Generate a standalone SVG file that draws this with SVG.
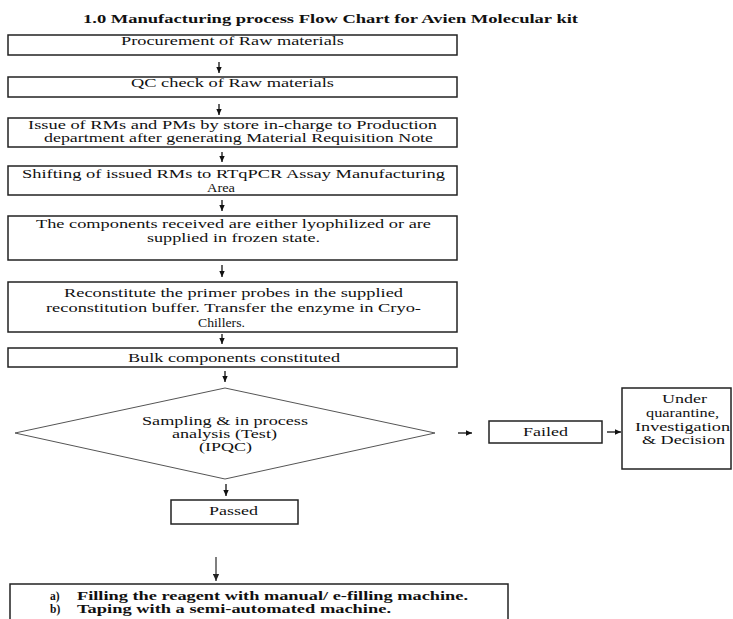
<svg xmlns="http://www.w3.org/2000/svg" width="733" height="619" viewBox="0 0 733 619">
<defs>
<style>
.box{fill:#fff;stroke:#222;stroke-width:1.5}
.dia{fill:#fff;stroke:#555;stroke-width:1}
.t{font-family:"Liberation Serif","Times New Roman",serif;font-size:12.5px;fill:#111}
.s{font-size:11.5px}
.b{font-weight:bold}
.c{stroke:#111;stroke-width:1.3;fill:none;marker-end:url(#ah)}
.g{stroke:#555;stroke-width:1.5;fill:none;marker-end:url(#ahg)}
</style>
<marker id="ah" viewBox="0 0 10 10" refX="10" refY="5" markerWidth="6" markerHeight="6" orient="auto" markerUnits="userSpaceOnUse"><path d="M0,0.5 L10,5 L0,9.5 z" fill="#111"/></marker>
<marker id="ahg" viewBox="0 0 10 10" refX="10" refY="5" markerWidth="7" markerHeight="7" orient="auto" markerUnits="userSpaceOnUse"><path d="M0,0.5 L10,5 L0,9.5 z" fill="#222"/></marker>
</defs>
<rect width="733" height="619" fill="#fff"/>
<text id="title" class="t b" x="83" y="23" textLength="495" lengthAdjust="spacingAndGlyphs">1.0 Manufacturing process Flow Chart for Avien Molecular kit</text>

<g id="connectors">
<line class="c" x1="219" y1="62" x2="219" y2="73"/>
<line class="c" x1="219" y1="104" x2="219" y2="115"/>
<line class="c" x1="222" y1="152" x2="222" y2="162"/>
<line class="c" x1="222" y1="200" x2="222" y2="211"/>
<line class="c" x1="222" y1="265" x2="222" y2="277"/>
<line class="c" x1="222" y1="334" x2="222" y2="344"/>
<line class="c" x1="225" y1="371" x2="225" y2="382"/>
<line class="c" x1="458" y1="433" x2="472" y2="433"/>
<line class="c" x1="607" y1="432" x2="621" y2="432"/>
<line class="c" x1="226" y1="484" x2="226" y2="496"/>
<line class="g" x1="216" y1="557" x2="216" y2="581"/>
</g>

<g id="n1">
<rect class="box" x="8" y="35" width="449" height="20"/>
<text class="t" x="121" y="44.5" textLength="223" lengthAdjust="spacingAndGlyphs">Procurement of Raw materials</text>
</g>
<g id="n2">
<rect class="box" x="8" y="77" width="449" height="20"/>
<text class="t" x="131" y="87" textLength="203" lengthAdjust="spacingAndGlyphs">QC check of Raw materials</text>
</g>
<g id="n3">
<rect class="box" x="8" y="118" width="449" height="29"/>
<text class="t s" x="28" y="129" textLength="409" lengthAdjust="spacingAndGlyphs">Issue of RMs and PMs by store in-charge to Production</text>
<text class="t s" x="44" y="142" textLength="389" lengthAdjust="spacingAndGlyphs">department after generating Material Requisition Note</text>
</g>
<g id="n4">
<rect class="box" x="8" y="166" width="449" height="29"/>
<text class="t s" x="22" y="178" textLength="423" lengthAdjust="spacingAndGlyphs">Shifting of issued RMs to RTqPCR Assay Manufacturing</text>
<text class="t s" x="207" y="192" textLength="28" lengthAdjust="spacingAndGlyphs">Area</text>
</g>
<g id="n5">
<rect class="box" x="8" y="216" width="449" height="44"/>
<text class="t s" x="36" y="228" textLength="395" lengthAdjust="spacingAndGlyphs">The components received are either lyophilized or are</text>
<text class="t s" x="147" y="242" textLength="173" lengthAdjust="spacingAndGlyphs">supplied in frozen state.</text>
</g>
<g id="n6">
<rect class="box" x="8" y="282" width="449" height="50"/>
<text class="t s" x="64" y="297" textLength="339" lengthAdjust="spacingAndGlyphs">Reconstitute the primer probes in the supplied</text>
<text class="t s" x="46" y="312" textLength="375" lengthAdjust="spacingAndGlyphs">reconstitution buffer. Transfer the enzyme in Cryo-</text>
<text class="t s" x="198" y="327" textLength="47" lengthAdjust="spacingAndGlyphs">Chillers.</text>
</g>
<g id="n7">
<rect class="box" x="8" y="348" width="449" height="19"/>
<text class="t" x="128" y="362" textLength="212" lengthAdjust="spacingAndGlyphs">Bulk components constituted</text>
</g>
<g id="n8">
<polygon class="dia" points="225,388 435,433 225,479 15,433"/>
<text class="t s" x="142" y="425" textLength="166" lengthAdjust="spacingAndGlyphs">Sampling &amp; in process</text>
<text class="t s" x="172" y="438" textLength="105" lengthAdjust="spacingAndGlyphs">analysis (Test)</text>
<text class="t s" x="199" y="451" textLength="53" lengthAdjust="spacingAndGlyphs">(IPQC)</text>
</g>
<g id="n9">
<rect class="box" x="489" y="421" width="113" height="22"/>
<text class="t" x="523" y="436" textLength="45" lengthAdjust="spacingAndGlyphs">Failed</text>
</g>
<g id="n10">
<rect class="box" x="622" y="388" width="109" height="81"/>
<text class="t s" x="662" y="403" textLength="45" lengthAdjust="spacingAndGlyphs">Under</text>
<text class="t s" x="646" y="417" textLength="73" lengthAdjust="spacingAndGlyphs">quarantine,</text>
<text class="t s" x="635" y="431" textLength="95" lengthAdjust="spacingAndGlyphs">Investigation</text>
<text class="t s" x="642" y="444" textLength="83" lengthAdjust="spacingAndGlyphs">&amp; Decision</text>
</g>
<g id="n11">
<rect class="box" x="171" y="500" width="127" height="24"/>
<text class="t" x="209" y="515" textLength="49" lengthAdjust="spacingAndGlyphs">Passed</text>
</g>
<g id="n12">
<rect class="box" x="10" y="584" width="498" height="50"/>
<text class="t s b" x="50" y="600">a)</text>
<text class="t s b" x="77" y="600" textLength="391" lengthAdjust="spacingAndGlyphs">Filling the reagent with manual/ e-filling machine.</text>
<text class="t s b" x="50" y="613">b)</text>
<text class="t s b" x="77" y="613" textLength="314" lengthAdjust="spacingAndGlyphs">Taping with a semi-automated machine.</text>
</g>
</svg>
